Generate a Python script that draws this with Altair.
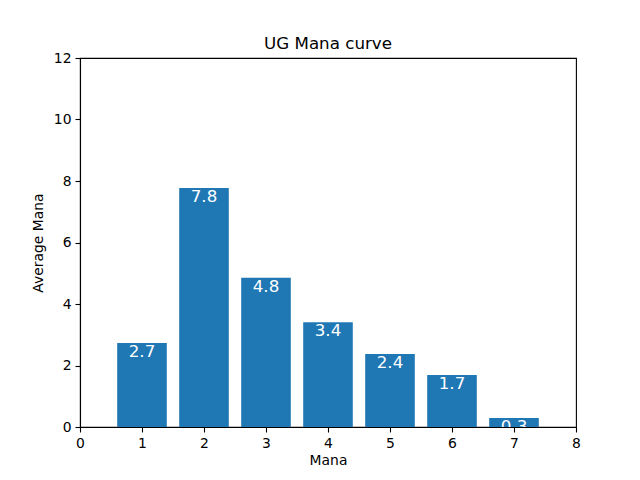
import altair as alt
import pandas as pd

mana = [1, 2, 3, 4, 5, 6, 7]
avg = [2.73, 7.77, 4.85, 3.41, 2.37, 1.69, 0.29]
labels = ["2.7", "7.8", "4.8", "3.4", "2.4", "1.7", "0.3"]

df = pd.DataFrame({"mana": mana, "avg": avg, "label": labels})
FONT = "DejaVu Sans"

base = alt.Chart(df).transform_calculate(
    x0="datum.mana - 0.4", x1="datum.mana + 0.4", zero="0"
)

xscale = alt.Scale(domain=[0, 8], nice=False, zero=False, padding=0)
yscale = alt.Scale(domain=[0, 12], nice=False, padding=0)

bars = base.mark_bar(color="#1f77b4").encode(
    x=alt.X("x0:Q", scale=xscale, title="Mana",
            axis=alt.Axis(values=list(range(0, 9)), format="d")),
    x2="x1:Q",
    y=alt.Y("avg:Q", scale=yscale, title="Average Mana",
            axis=alt.Axis(values=list(range(0, 13, 2)), format="d")),
    y2="zero:Q",
)

text = base.mark_text(color="white", fontSize=16.7, font=FONT,
                      baseline="alphabetic", dy=14, clip=True).encode(
    x=alt.X("mana:Q", scale=xscale),
    y=alt.Y("avg:Q", scale=yscale),
    text="label:N",
)

chart = alt.layer(bars, text).properties(
    width=496, height=369,
    title=alt.TitleParams("UG Mana curve", fontSize=16.7, font=FONT,
                          fontWeight="normal", color="black", offset=-2),
    padding={"left": 72, "top": 50, "right": 56, "bottom": 45},
    autosize="none",
).configure_axis(
    grid=False, domainColor="black", domainWidth=1.1,
    tickColor="black", tickWidth=1.1, tickSize=5,
    labelColor="black", labelFont=FONT, labelFontSize=13.9, labelPadding=4,
    labelFlush=False, labelOverlap=False,
    titleColor="black", titleFont=FONT, titleFontSize=13.9,
    titleFontWeight="normal", zindex=1,
).configure_axisX(titlePadding=4, labelAngle=0).configure_axisY(
    titlePadding=8
).configure_view(stroke="black", strokeWidth=1.1)

chart.save("out.html", embed_options={"renderer": "svg", "actions": False})
